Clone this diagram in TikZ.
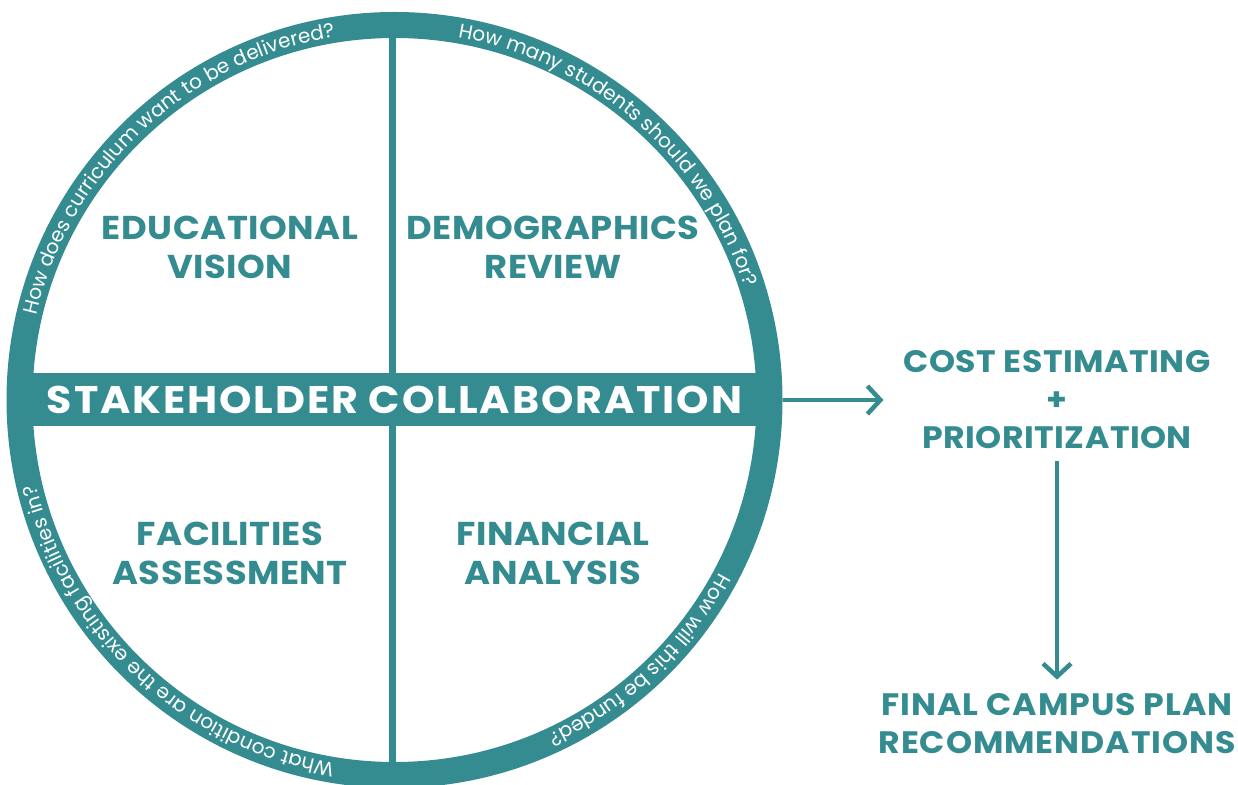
\documentclass[tikz,border=0pt]{standalone}
\usepackage{fontspec}
\setmainfont{Poppins}
\newfontfamily\headfam{Poppins}[FakeStretch=1.07]
\newfontfamily\ringfam{Poppins}[LetterSpace=1]
\usetikzlibrary{arrows.meta,decorations.text,calc}
\definecolor{brandteal}{RGB}{52,140,144}
\begin{document}
\begin{tikzpicture}[x=1pt,y=1pt,
  head/.style={text=brandteal, font=\headfam\bfseries\addfontfeature{LetterSpace=1.5}\fontsize{33}{39}\selectfont, align=center, inner sep=0pt},
  side/.style={text=brandteal, font=\headfam\bfseries\fontsize{31}{38}\selectfont, align=center, inner sep=0pt},
  ringtxt/.style={decorate, decoration={text along path, text align=center, text color=white,
      text={|\ringfam\fontsize{20}{20}\selectfont|#1}}},
  arr/.style={draw=brandteal, line width=4.5pt, -{Straight Barb[length=13pt,width=28pt,line width=4.5pt]}}
]
\useasboundingbox (0,0) rectangle (1238,784);
% wheel ring
\node[circle, draw=brandteal, line width=26pt, minimum size=750pt, inner sep=0pt] (wheel) at (394.5,384) {};
% vertical divider
\draw[brandteal, line width=7pt] ([xshift=-2.5pt]wheel.north) -- ([xshift=-2.5pt]wheel.south);
% band
\node[fill=brandteal, minimum width=740pt, minimum height=53pt, inner sep=0pt, text=white,
      font=\headfam\bfseries\addfontfeature{LetterSpace=5}\fontsize{38.5}{38.5}\selectfont] (band) at (394.5,384.5) {STAKEHOLDER COLLABORATION};
% quadrant labels
\node[head] (edu) at (230,537) {EDUCATIONAL\\VISION};
\node[head] (demo) at (553,537) {DEMOGRAPHICS\\REVIEW};
\node[head] (fac) at (230,231) {FACILITIES\\ASSESSMENT};
\node[head] (fin) at (553,231) {FINANCIAL\\ANALYSIS};
% ring questions
\path[ringtxt={How does curriculum want to be delivered?}]
  ($(wheel.center)+(178:368)$) arc[start angle=178, end angle=88, radius=368];
\path[ringtxt={How many students should we plan for?}]
  ($(wheel.center)+(94:368)$) arc[start angle=94, end angle=4, radius=368];
\path[ringtxt={How will this be funded?}]
  ($(wheel.center)+(-1.7:368)$) arc[start angle=-1.7, end angle=-91.7, radius=368];
\path[ringtxt={What condition are the existing facilities in?}]
  ($(wheel.center)+(272:368)$) arc[start angle=272, end angle=182, radius=368];
% right side
\node[side, font=\headfam\bfseries\addfontfeature{LetterSpace=1.5}\fontsize{31}{38}\selectfont] (cost) at (1057,384) {COST ESTIMATING\\+\\PRIORITIZATION};
\node[side, font=\headfam\bfseries\addfontfeature{LetterSpace=3}\fontsize{31}{38}\selectfont] (final) at (1057,60) {FINAL CAMPUS PLAN\\RECOMMENDATIONS};
\draw[arr, shorten >=20pt] (wheel.east) -- (wheel.east -| cost.west);
\draw[arr, shorten <=12pt, shorten >=14pt] (cost.south) -- (final.north);
\end{tikzpicture}
\end{document}
